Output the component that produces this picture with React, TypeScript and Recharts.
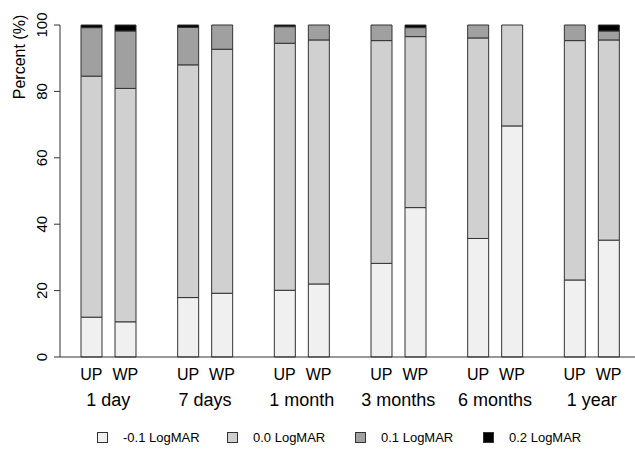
import * as React from "react";
import { BarChart, Bar, XAxis, YAxis, Legend } from "recharts";

const periods = ["1 day", "7 days", "1 month", "3 months", "6 months", "1 year"];
const groups = ["UP", "WP"];

// percent per LogMAR level, one value per period
const upMinus01 = [12.0, 17.9, 20.1, 28.2, 35.7, 23.2];
const up00 = [72.6, 70.1, 74.4, 67.1, 60.4, 72.1];
const up01 = [14.6, 11.3, 5.0, 4.7, 3.9, 4.7];
const up02 = [0.8, 0.7, 0.5, 0.0, 0.0, 0.0];

const wpMinus01 = [10.6, 19.2, 22.0, 45.0, 69.6, 35.2];
const wp00 = [70.3, 73.5, 73.5, 51.5, 30.4, 60.3];
const wp01 = [17.3, 7.3, 4.5, 2.7, 0.0, 2.7];
const wp02 = [1.8, 0.0, 0.0, 0.8, 0.0, 1.8];

const levels = ["-0.1 LogMAR", "0.0 LogMAR", "0.1 LogMAR", "0.2 LogMAR"];
const fills = ["#f0f0f0", "#d0d0d0", "#a0a0a0", "#000000"];
const yTicks = [0, 20, 40, 60, 80, 100];

const FONT = "'Liberation Sans', Arial, sans-serif";
const STROKE = "#333";

const data = periods.map((p, i) => ({
  period: p,
  UP_0: upMinus01[i], UP_1: up00[i], UP_2: up01[i], UP_3: up02[i],
  WP_0: wpMinus01[i], WP_1: wp00[i], WP_2: wp01[i], WP_3: wp02[i],
}));

function XTick(props: any) {
  const { x, payload } = props;
  return (
    <g fontFamily={FONT} fill="#000">
      <text x={x - 17} y={380} textAnchor="middle" fontSize={16}>{groups[0]}</text>
      <text x={x + 17} y={380} textAnchor="middle" fontSize={16}>{groups[1]}</text>
      <text x={x} y={406} textAnchor="middle" fontSize={18}>{payload.value}</text>
    </g>
  );
}

function YTick(props: any) {
  const { y, payload } = props;
  return (
    <text
      x={47}
      y={y}
      transform={`rotate(-90 47 ${y})`}
      textAnchor="middle"
      fontSize={15}
      fontFamily={FONT}
      fill="#000"
    >
      {payload.value}
    </text>
  );
}

function LegendBox() {
  const xs = [97, 227, 355, 483];
  return (
    <div style={{ position: "relative", height: 34, fontFamily: FONT, fontSize: 13 }}>
      {levels.map((l, i) => (
        <div key={l} style={{ position: "absolute", left: xs[i], top: 10, height: 20, display: "flex", alignItems: "center" }}>
          <span style={{ width: 9, height: 9, background: fills[i], border: `1px solid ${STROKE}`, display: "inline-block" }} />
          <span style={{ marginLeft: 15 }}>{l}</span>
        </div>
      ))}
    </div>
  );
}

export default function App() {
  return (
    <div style={{ position: "absolute", left: 0, top: 0, width: 635, height: 451, overflow: "hidden", background: "#fff" }}>
      <BarChart
        width={640}
        height={451}
        data={data}
        margin={{ top: 25, right: 0, left: 0, bottom: 0 }}
        barSize={21}
        barGap={13}
      >
        <XAxis
          dataKey="period"
          tick={<XTick />}
          tickLine={false}
          axisLine={{ stroke: STROKE }}
          height={60}
          interval={0}
        />
        <YAxis
          domain={[0, 100]}
          ticks={yTicks}
          width={60}
          tickSize={6}
          tick={<YTick />}
          axisLine={{ stroke: STROKE }}
          tickLine={{ stroke: STROKE }}
          label={{
            value: "Percent (%)",
            angle: -90,
            position: "insideTopLeft",
            content: () => (
              <text x={25} y={57} transform="rotate(-90 25 57)" textAnchor="middle" fontSize={16} fontFamily={FONT} fill="#000">
                Percent (%)
              </text>
            ),
          }}
        />
        <Legend verticalAlign="bottom" height={34} content={() => <LegendBox />} />
        {[0, 1, 2, 3].map((k) => (
          <Bar key={`UP_${k}`} dataKey={`UP_${k}`} stackId="UP" fill={fills[k]} stroke={STROKE} strokeWidth={1} isAnimationActive={false} />
        ))}
        {[0, 1, 2, 3].map((k) => (
          <Bar key={`WP_${k}`} dataKey={`WP_${k}`} stackId="WP" fill={fills[k]} stroke={STROKE} strokeWidth={1} isAnimationActive={false} />
        ))}
      </BarChart>
    </div>
  );
}
